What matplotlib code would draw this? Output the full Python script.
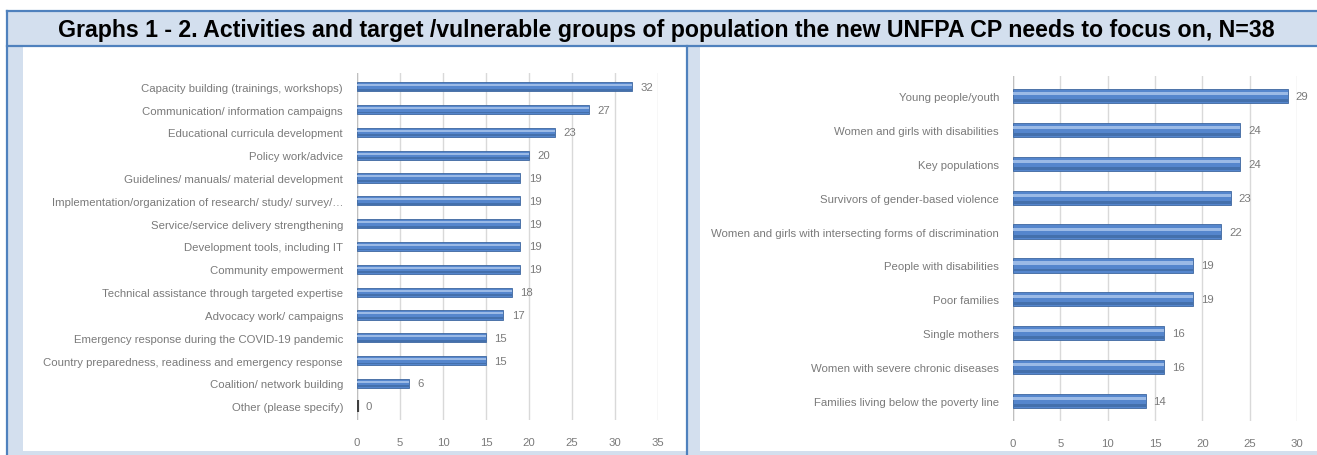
import matplotlib
matplotlib.use("Agg")
from matplotlib import pyplot as plt
from matplotlib.patches import Rectangle
from matplotlib.lines import Line2D
import numpy as np

# data
activities = [
    "Capacity building (trainings, workshops)",
    "Communication/ information campaigns",
    "Educational curricula development",
    "Policy work/advice",
    "Guidelines/ manuals/ material development",
    "Implementation/organization of research/ study/ survey/\u2026",
    "Service/service delivery strengthening",
    "Development tools, including IT",
    "Community empowerment",
    "Technical assistance through targeted expertise",
    "Advocacy work/ campaigns",
    "Emergency response during the COVID-19 pandemic",
    "Country preparedness, readiness and emergency response",
    "Coalition/ network building",
    "Other (please specify)",
]
act_counts = [32, 27, 23, 20, 19, 19, 19, 19, 19, 18, 17, 15, 15, 6, 0]
act_ticks = [0, 5, 10, 15, 20, 25, 30, 35]

groups = [
    "Young people/youth",
    "Women and girls with disabilities",
    "Key populations",
    "Survivors of gender-based violence",
    "Women and girls with intersecting forms of discrimination",
    "People with disabilities",
    "Poor families",
    "Single mothers",
    "Women with severe chronic diseases",
    "Families living below the poverty line",
]
grp_counts = [29, 24, 24, 23, 22, 19, 19, 16, 16, 14]
grp_ticks = [0, 5, 10, 15, 20, 25, 30]

title = ("Graphs 1 - 2. Activities and target /vulnerable groups of population "
         "the new UNFPA CP needs to focus on, N=38")

W, H = 1317, 456
BLUE = "#4F81BD"
PALE = "#D3DFEE"
TXT = "#7A7A7A"
FS = 8.2

fig = plt.figure(figsize=(W / 100, H / 100), dpi=100)
fig.patch.set_facecolor("white")


def fx(px):
    return px / W


def fy(py):
    # pixel rows are counted from the top
    return 1 - py / H


def box(x0, y0, x1, y1, color):
    fig.patches.append(Rectangle((fx(x0), fy(y1)), fx(x1) - fx(x0), fy(y0) - fy(y1),
                                 transform=fig.transFigure, facecolor=color,
                                 edgecolor="none", zorder=-3))


def line(x0, y0, x1, y1):
    fig.lines.append(Line2D([fx(x0), fx(x1)], [fy(y0), fy(y1)], transform=fig.transFigure,
                            color=BLUE, lw=1.6, zorder=-2))


# frame of the table the charts sit in
box(7, 12, W, H, PALE)
box(23, 48, 687, 452, "white")
box(700, 48, W, 452, "white")
line(7, 12, W, 12)
line(7, 47, W, 47)
line(7, 12, 7, H)
line(687, 47, 687, H)

fig.text(fx(666), fy(30), title, ha="center", va="center", fontsize=16.7,
         fontweight="bold", family="Liberation Sans", color="black")


def cyl_chart(rect, labels, vals, ticks, h):
    ax = fig.add_axes(rect)
    ax.set_facecolor("none")
    pos = np.arange(len(vals))
    # body of the cylinder, then a light stripe for the shine and a darker underside
    ax.barh(pos, vals, height=h, color="#5586CD", edgecolor="#3E679F", lw=0.6, zorder=3)
    ax.barh(pos - h * 0.17, vals, height=h * 0.22, color="#9BBAE6", lw=0, zorder=4)
    ax.barh(pos + h * 0.32, vals, height=h * 0.2, color="#4470AC", lw=0, zorder=4)
    for p, v in zip(pos, vals):
        ax.text(v + ticks[-1] * 0.028, p, str(v), va="center", ha="left", fontsize=FS,
                color=TXT, family="Liberation Sans")
        if v == 0:
            ax.plot([0], [p], marker="|", ms=9, mew=3, color="#404040", zorder=5)
    ax.set_xlim(0, ticks[-1])
    ax.set_ylim(len(vals) - 0.4, -0.6)
    ax.set_xticks(ticks)
    ax.set_yticks(pos)
    ax.set_yticklabels(labels)
    ax.grid(axis="x", color="#D9D9D9", lw=1, zorder=0)
    ax.axvline(0, color="#BFBFBF", lw=1, zorder=2)
    for s in ax.spines.values():
        s.set_visible(False)
    ax.tick_params(length=0, labelsize=FS, labelcolor=TXT)
    ax.tick_params(axis="x", pad=12)
    ax.tick_params(axis="y", pad=10)
    for t in ax.get_xticklabels() + ax.get_yticklabels():
        t.set_family("Liberation Sans")
    return ax


cyl_chart([fx(357), fy(421), fx(658) - fx(357), fy(74) - fy(421)],
          activities, act_counts, act_ticks, 0.4)
cyl_chart([fx(1013), fy(422), fx(1297) - fx(1013), fy(77) - fy(422)],
          groups, grp_counts, grp_ticks, 0.42)

plt.savefig("out.png", dpi=100)
plt.close()
